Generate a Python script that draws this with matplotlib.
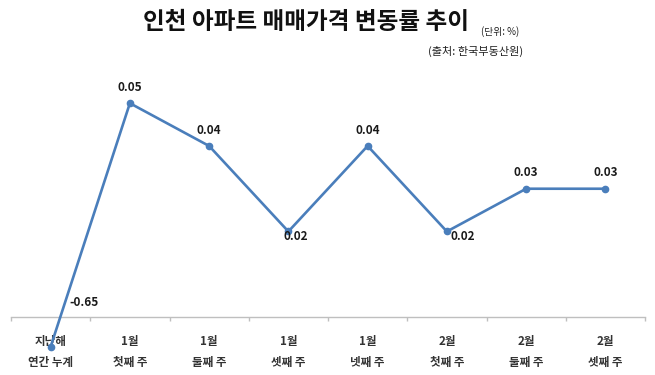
import matplotlib
matplotlib.use("Agg")
import matplotlib.pyplot as plt
import numpy as np

plt.rcParams['font.family'] = ['Noto Sans CJK KR', 'DejaVu Sans']

categories = ["지난해\n연간 누계", "1월\n첫째 주", "1월\n둘째 주", "1월\n셋째 주",
              "1월\n넷째 주", "2월\n첫째 주", "2월\n둘째 주", "2월\n셋째 주"]
values = [-0.65, 0.05, 0.04, 0.02, 0.04, 0.02, 0.03, 0.03]
value_labels = ["-0.65", "0.05", "0.04", "0.02", "0.04", "0.02", "0.03", "0.03"]
title = "인천 아파트 매매가격 변동률 추이"
unit = "(단위: %)"
source = "(출처: 한국부동산원)"

# label offsets in points (style, not data)
label_offsets = [(24, 32), (0, 11.5), (0, 11.5), (5.5, -3.8), (0, 11.5), (11.5, -3.8),
                 (0, 11.5), (0, 11.5)]

NEG_K = 0.0107  # compression of the negative part of the axis (broken-axis look)

def fwd(v):
    v = np.asarray(v, dtype=float)
    return np.where(v >= 0, v, v * NEG_K)

def inv(p):
    p = np.asarray(p, dtype=float)
    return np.where(p >= 0, p, p / NEG_K)

fig = plt.figure(figsize=(6.55, 3.75), dpi=100)
ax = fig.add_axes([11/655, 15/375, 634/655, 285/375])
ax.set_yscale('function', functions=(fwd, inv))

x = np.arange(len(categories))
line_color = '#4a7ebb'
ax.plot(x, values, color=line_color, lw=1.9, marker='o', markersize=4.5,
        clip_on=False, zorder=3)

for xi, v, lab, off in zip(x, values, value_labels, label_offsets):
    ax.annotate(lab, (xi, v), xytext=off, textcoords='offset points',
                ha='center', va='center', fontsize=8.5, fontweight='bold', color='#1a1a1a')

ax.set_xlim(-0.5, len(categories) - 0.5)
ax.set_ylim(-0.94, 0.0566)

for s in ['top', 'right', 'left']:
    ax.spines[s].set_visible(False)
ax.spines['bottom'].set_position(('data', 0))
ax.spines['bottom'].set_color('#bfbfbf')
ax.spines['bottom'].set_linewidth(1.0)

ax.set_yticks([])
ax.set_xticks(x)
ax.set_xticklabels(categories, fontsize=8.3, fontweight='bold', color='#333333',
                   linespacing=1.75)
ax.tick_params(axis='x', which='major', length=0, pad=13)
ax.set_xticks(np.arange(-0.5, len(categories), 1.0), minor=True)
ax.tick_params(axis='x', which='minor', length=3, color='#bfbfbf', width=1.0, direction='out')

fig.text(306/655, 1 - 22/375, title, ha='center', va='center', fontsize=17, fontweight='bold',
         color='#111111')
fig.text(519/655, 1 - 32/375, unit, ha='right', va='center', fontsize=7, color='#222222')
fig.text(523/655, 1 - 51/375, source, ha='right', va='center', fontsize=8, color='#222222')

fig.savefig('out.png', dpi=100)
